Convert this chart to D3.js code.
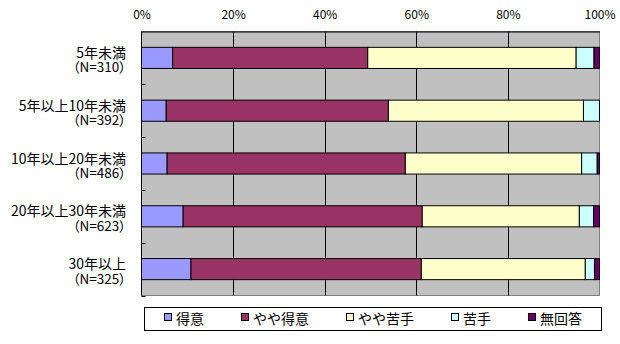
<!DOCTYPE html>
<html><head><meta charset="utf-8">
<script src="https://cdnjs.cloudflare.com/ajax/libs/d3/7.8.5/d3.min.js"></script>
<style>
html,body{margin:0;padding:0;background:#fff;}
svg{display:block;}
text{font-family:"Noto Sans CJK JP","Noto Sans",sans-serif;fill:#000;}
.palt{font-feature-settings:"palt" 1;}
</style></head>
<body>
<svg id="chart" width="620" height="344"></svg>
<script>
const categories = ["5年未満", "5年以上10年未満", "10年以上20年未満", "20年以上30年未満", "30年以上"];
const counts = ["（N=310）", "（N=392）", "（N=486）", "（N=623）", "（N=325）"];
const seriesNames = ["得意", "やや得意", "やや苦手", "苦手", "無回答"];
const tokui      = [6.8, 5.4, 5.6, 9.1, 10.8];
const yayaTokui  = [42.6, 48.5, 52.0, 52.2, 50.3];
const yayaNigate = [45.5, 42.6, 38.5, 34.3, 35.8];
const nigate     = [3.9, 3.5, 3.4, 3.1, 2.0];
const mukaitou   = [1.2, 0.0, 0.5, 1.3, 1.1];
const tickValues = [0, 20, 40, 60, 80, 100];
const tickLabels = ["0%", "20%", "40%", "60%", "80%", "100%"];

const colors = ["#9999FF", "#993366", "#FFFFCC", "#CCFFFF", "#660066"];
const seriesValues = [tokui, yayaTokui, yayaNigate, nigate, mukaitou];

const svg = d3.select("#chart");
const L = 141.5, R = 599.5, T = 31.5, B = 295.5;

const x = d3.scaleLinear().domain([0, 100]).range([L, R]);
const y = d3.scaleBand().domain(categories).range([T, B]).paddingInner(0.6).paddingOuter(0.3);

// plot background
svg.append("rect").attr("x", L).attr("y", T).attr("width", R - L).attr("height", B - T)
  .attr("fill", "#C0C0C0").attr("stroke", "#808080").attr("stroke-width", 1);

// vertical gridlines
svg.append("g").selectAll("line").data(tickValues.slice(1, -1)).join("line")
  .attr("x1", d => Math.round(x(d)) + 0.5).attr("x2", d => Math.round(x(d)) + 0.5)
  .attr("y1", T).attr("y2", B).attr("stroke", "#000").attr("stroke-width", 1);

// stacked data
const stackData = categories.map((c, i) => {
  const o = { cat: c };
  seriesNames.forEach((s, j) => o[s] = seriesValues[j][i]);
  return o;
});
const stacked = d3.stack().keys(seriesNames)(stackData);

svg.append("g").selectAll("g").data(stacked).join("g")
  .attr("fill", (d, i) => colors[i])
  .selectAll("rect").data(d => d.filter(p => p[1] - p[0] > 0)).join("rect")
  .attr("x", d => x(d[0])).attr("width", d => x(d[1]) - x(d[0]))
  .attr("y", d => y(d.data.cat)).attr("height", y.bandwidth())
  .attr("stroke", "#000").attr("stroke-width", 1);

// top value axis
const xAxis = d3.axisTop(x).tickValues(tickValues).tickSize(0).tickPadding(13)
  .tickFormat((d, i) => tickLabels[i]);
const gx = svg.append("g").attr("transform", `translate(0,${T})`).call(xAxis);
gx.select(".domain").attr("stroke", "#000");
gx.selectAll("text").attr("font-size", 12).attr("font-family", "'Noto Sans CJK JP', sans-serif");

// left category axis line and inside ticks at band boundaries
svg.append("line").attr("x1", L).attr("x2", L).attr("y1", T).attr("y2", B).attr("stroke", "#000");
const step = y.step();
svg.append("g").selectAll("line").data(categories).join("line")
  .attr("x1", L).attr("x2", L + 4)
  .attr("y1", (d, i) => Math.round(T + (i + 1) * step) + 0.5)
  .attr("y2", (d, i) => Math.round(T + (i + 1) * step) + 0.5)
  .attr("stroke", "#000");

// category labels
const lab = svg.append("g").selectAll("g").data(categories).join("g")
  .attr("transform", d => `translate(126,${y(d) + y.bandwidth() / 2})`);
lab.append("text").attr("text-anchor", "end").attr("font-size", 14).attr("y", 0)
  .text(d => d);
lab.append("text").attr("class", "palt").attr("text-anchor", "end").attr("font-size", 13.5).attr("y", 14.5)
  .text((d, i) => counts[i]);

// legend
const lg = svg.append("g");
lg.append("rect").attr("x", 144.5).attr("y", 307.5).attr("width", 457).attr("height", 23)
  .attr("fill", "#fff").attr("stroke", "#000");
let lx = 164;
seriesNames.forEach((s, i) => {
  lg.append("rect").attr("x", lx + 0.5).attr("y", 313.5).attr("width", 7).attr("height", 7)
    .attr("fill", colors[i]).attr("stroke", "#000");
  const t = lg.append("text").attr("x", lx + 12).attr("y", 324).attr("font-size", 14).text(s);
  lx += 12 + t.node().getComputedTextLength() + 37;
});
</script>
</body></html>
